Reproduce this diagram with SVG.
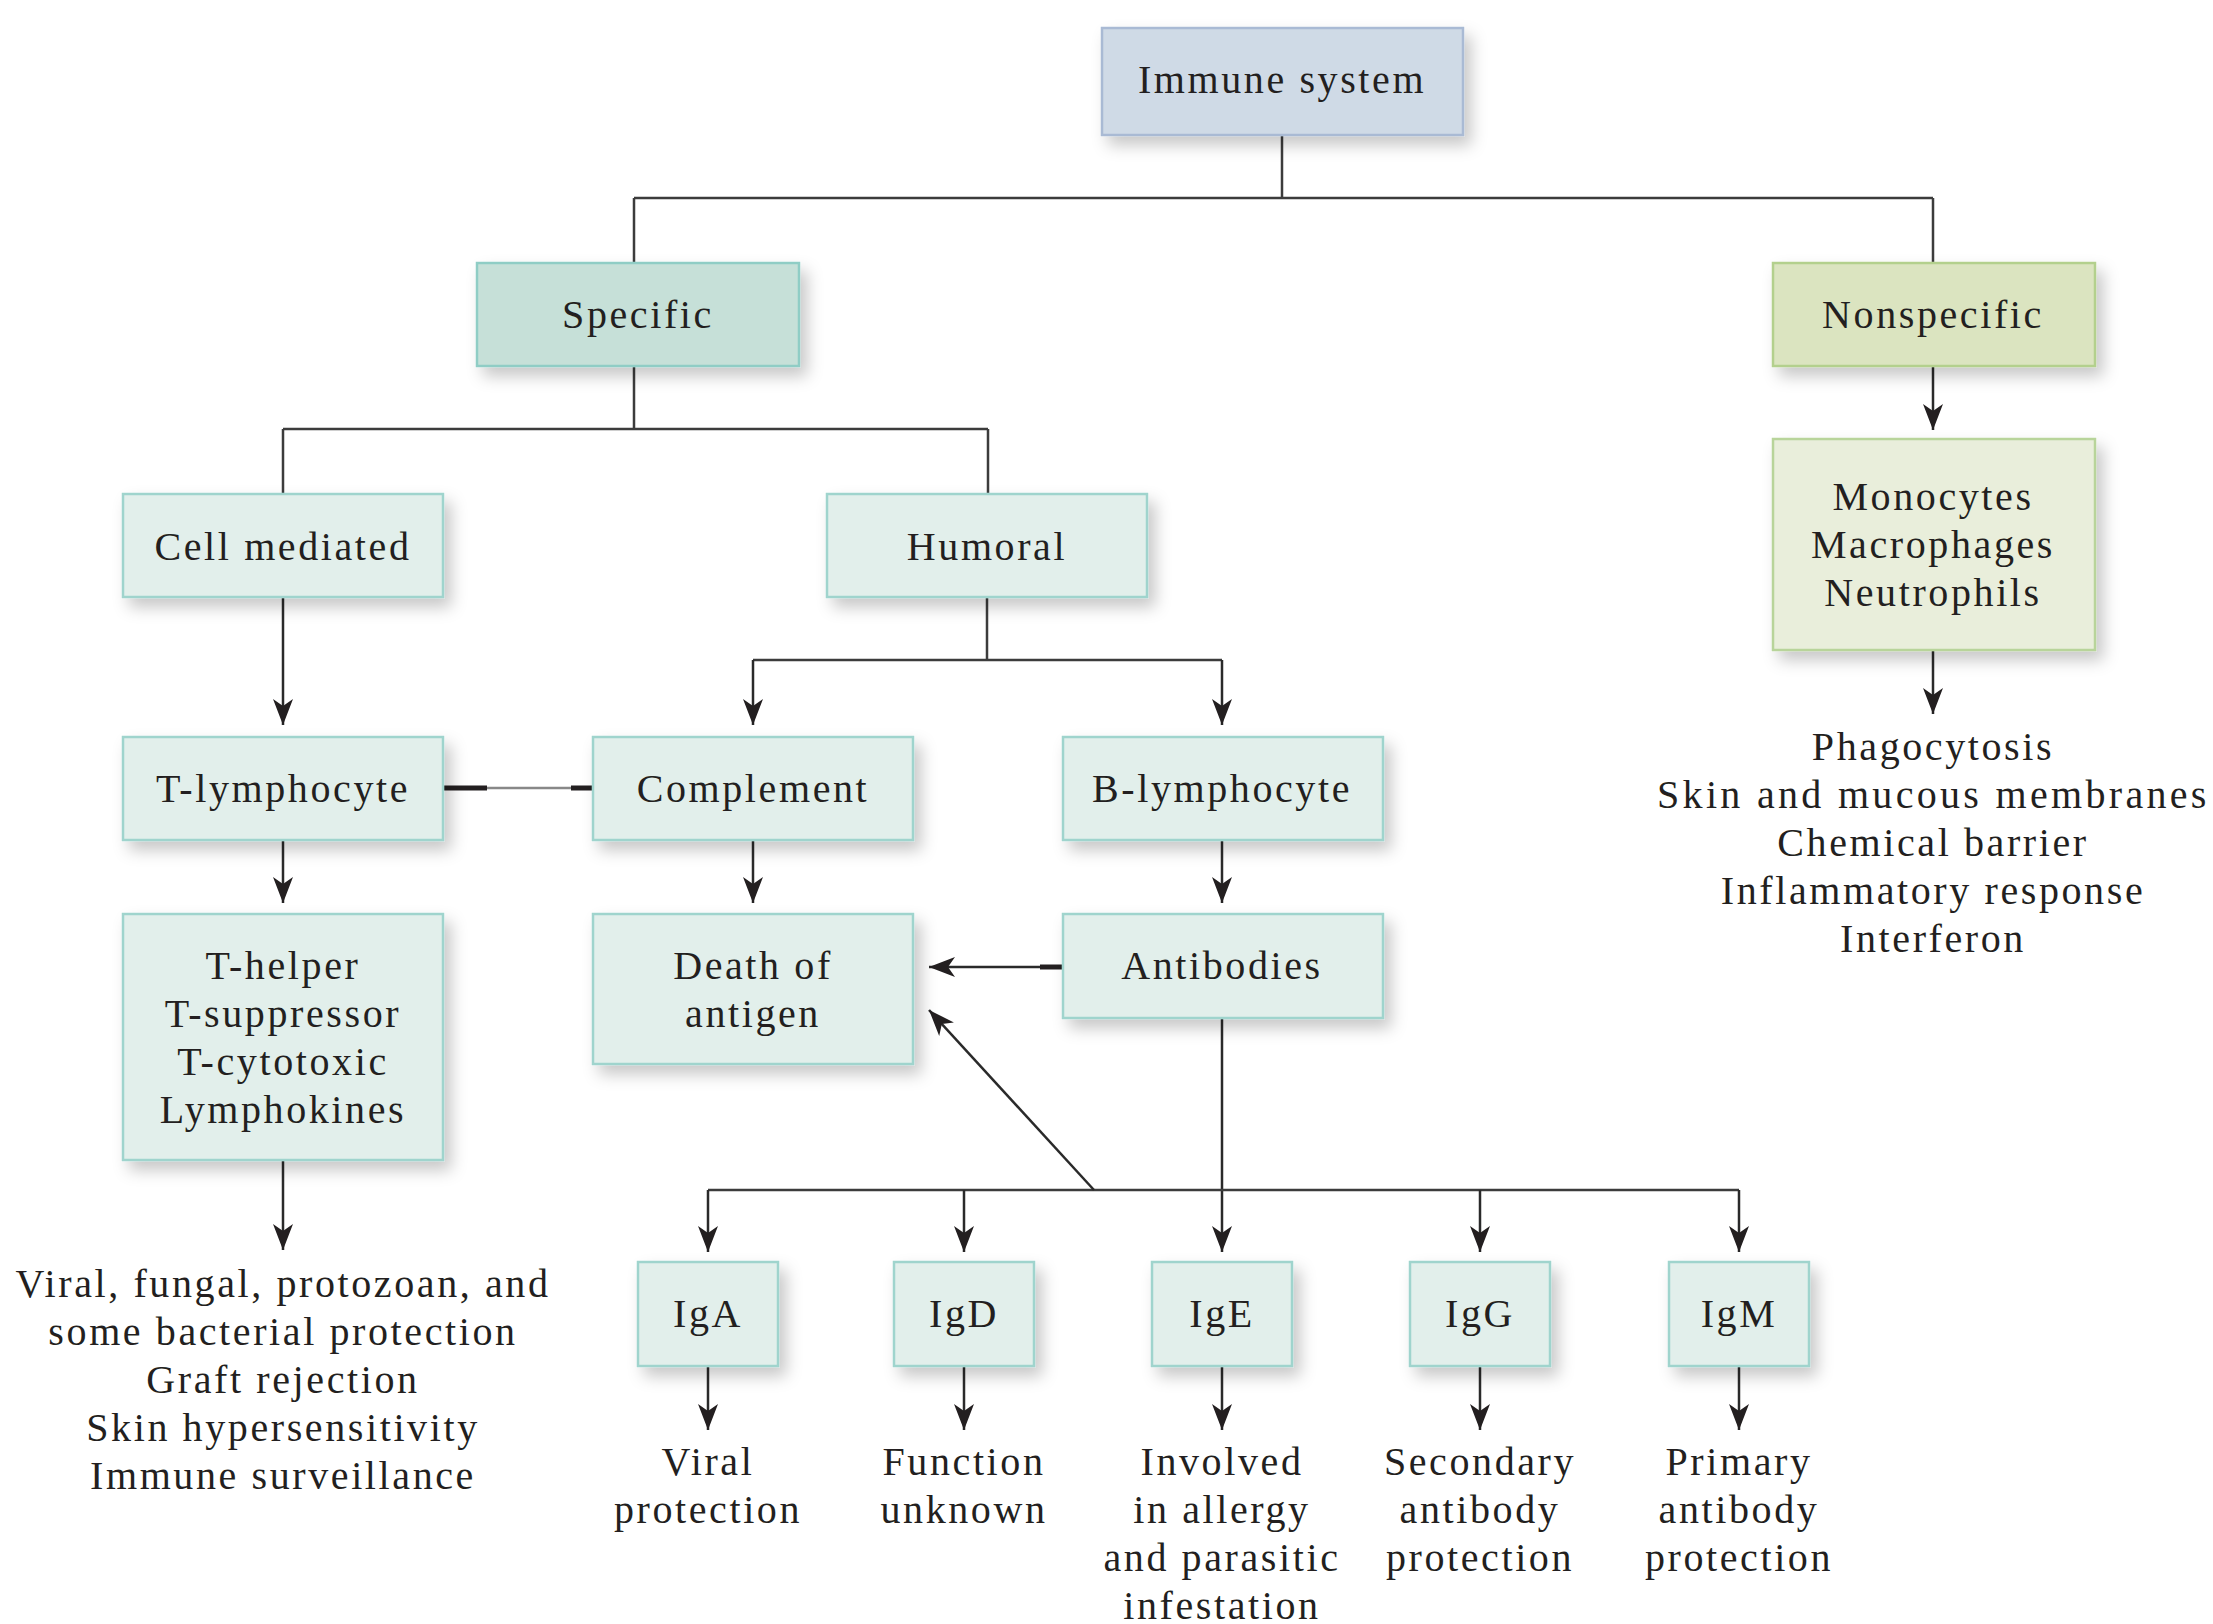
<svg xmlns="http://www.w3.org/2000/svg" width="2213" height="1624" viewBox="0 0 2213 1624">
<style>
text{font-family:"Liberation Serif","Times New Roman",serif;font-size:40px;fill:#231f20;text-anchor:middle;letter-spacing:2.6px}
.box{stroke-width:2.5;filter:url(#sh)}
.blue{fill:#cfdae6;stroke:#a9bad4}
.teal{fill:#c6e0d8;stroke:#8fcdc5}
.green{fill:#dbe4c0;stroke:#b3d08d}
.lgreen{fill:#e9eedb;stroke:#b8d49a}
.pale{fill:#e2efeb;stroke:#9fd4cd}
.ln{fill:none;stroke:#3c3c3c;stroke-width:2.5}
.ar{fill:none;stroke:#2a2a2a;stroke-width:2.5;marker-end:url(#ah)}
.thick{fill:none;stroke:#231f20;stroke-width:5}
</style>
<defs>
<filter id="sh" x="-20%" y="-20%" width="150%" height="160%">
<feDropShadow dx="7" dy="9" stdDeviation="8" flood-color="#000" flood-opacity="0.22"/>
</filter>
<marker id="ah" markerUnits="userSpaceOnUse" markerWidth="30" markerHeight="22" refX="26" refY="10" orient="auto" viewBox="0 0 30 20">
<path d="M0,0 L26,10 L0,20 L7,10 Z" fill="#231f20"/>
</marker>
</defs>
<rect width="2213" height="1624" fill="#fff"/>

<g id="connectors">
<path class="ln" d="M1282,135 V198 M634,198 H1933 M634,198 V263 M1933,198 V263"/>
<path class="ar" d="M1933,366 V430"/>
<path class="ar" d="M1933,650 V714"/>
<path class="ln" d="M634,366 V429 M283,429 H988 M283,429 V494 M988,429 V494"/>
<path class="ar" d="M283,597 V725"/>
<path class="ln" d="M987,597 V660 M753,660 H1222"/>
<path class="ar" d="M753,660 V725"/>
<path class="ar" d="M1222,660 V725"/>
<path class="ar" d="M283,840 V903"/>
<path class="ar" d="M753,840 V903"/>
<path class="ar" d="M1222,840 V903"/>
<path class="ar" d="M283,1160 V1250"/>
<path d="M443,788 H593" fill="none" stroke="#888" stroke-width="2.5"/>
<path class="thick" d="M443,788 H487 M571,788 H593"/>
<path class="ar" d="M1063,967 H929"/>
<path class="thick" d="M1040,967 H1063"/>
<path class="ar" d="M1222,1018 V1252"/>
<path class="ln" d="M708,1190 H1739"/>
<path class="ar" d="M708,1190 V1252"/>
<path class="ar" d="M964,1190 V1252"/>
<path class="ar" d="M1480,1190 V1252"/>
<path class="ar" d="M1739,1190 V1252"/>
<path class="ar" d="M1094,1190 L929,1010"/>
<path class="ar" d="M708,1366 V1430"/>
<path class="ar" d="M964,1366 V1430"/>
<path class="ar" d="M1222,1366 V1430"/>
<path class="ar" d="M1480,1366 V1430"/>
<path class="ar" d="M1739,1366 V1430"/>
</g>

<g id="immune-system"><rect class="box blue" x="1102" y="28" width="361" height="107"/><text x="1282" y="93">Immune system</text></g>
<g id="specific"><rect class="box teal" x="477" y="263" width="322" height="103"/><text x="638" y="328">Specific</text></g>
<g id="nonspecific"><rect class="box green" x="1773" y="263" width="322" height="103"/><text x="1933" y="328">Nonspecific</text></g>
<g id="monocytes"><rect class="box lgreen" x="1773" y="439" width="322" height="211"/>
<text x="1933" y="510">Monocytes</text><text x="1933" y="558">Macrophages</text><text x="1933" y="606">Neutrophils</text></g>
<g id="nonspecific-functions">
<text x="1933" y="760">Phagocytosis</text>
<text x="1933" y="808" textLength="552" lengthAdjust="spacing">Skin and mucous membranes</text>
<text x="1933" y="856">Chemical barrier</text>
<text x="1933" y="904">Inflammatory response</text>
<text x="1933" y="952">Interferon</text>
</g>
<g id="cell-mediated"><rect class="box pale" x="123" y="494" width="320" height="103"/><text x="283" y="560">Cell mediated</text></g>
<g id="humoral"><rect class="box pale" x="827" y="494" width="320" height="103"/><text x="987" y="560">Humoral</text></g>
<g id="t-lymphocyte"><rect class="box pale" x="123" y="737" width="320" height="103"/><text x="283" y="802">T-lymphocyte</text></g>
<g id="complement"><rect class="box pale" x="593" y="737" width="320" height="103"/><text x="753" y="802">Complement</text></g>
<g id="b-lymphocyte"><rect class="box pale" x="1063" y="737" width="320" height="103"/><text x="1222" y="802">B-lymphocyte</text></g>
<g id="t-cells"><rect class="box pale" x="123" y="914" width="320" height="246"/>
<text x="283" y="979">T-helper</text><text x="283" y="1027">T-suppressor</text><text x="283" y="1075">T-cytotoxic</text><text x="283" y="1123">Lymphokines</text></g>
<g id="death-of-antigen"><rect class="box pale" x="593" y="914" width="320" height="150"/>
<text x="753" y="979">Death of</text><text x="753" y="1027">antigen</text></g>
<g id="antibodies"><rect class="box pale" x="1063" y="914" width="320" height="104"/><text x="1222" y="979">Antibodies</text></g>
<g id="cell-mediated-functions">
<text x="283" y="1297">Viral, fungal, protozoan, and</text>
<text x="283" y="1345">some bacterial protection</text>
<text x="283" y="1393">Graft rejection</text>
<text x="283" y="1441">Skin hypersensitivity</text>
<text x="283" y="1489">Immune surveillance</text>
</g>
<g id="iga"><rect class="box pale" x="638" y="1262" width="140" height="104"/><text x="708" y="1327">IgA</text>
<text x="708" y="1475">Viral</text><text x="708" y="1523">protection</text></g>
<g id="igd"><rect class="box pale" x="894" y="1262" width="140" height="104"/><text x="964" y="1327">IgD</text>
<text x="964" y="1475">Function</text><text x="964" y="1523">unknown</text></g>
<g id="ige"><rect class="box pale" x="1152" y="1262" width="140" height="104"/><text x="1222" y="1327">IgE</text>
<text x="1222" y="1475">Involved</text><text x="1222" y="1523">in allergy</text><text x="1222" y="1571">and parasitic</text><text x="1222" y="1619">infestation</text></g>
<g id="igg"><rect class="box pale" x="1410" y="1262" width="140" height="104"/><text x="1480" y="1327">IgG</text>
<text x="1480" y="1475">Secondary</text><text x="1480" y="1523">antibody</text><text x="1480" y="1571">protection</text></g>
<g id="igm"><rect class="box pale" x="1669" y="1262" width="140" height="104"/><text x="1739" y="1327">IgM</text>
<text x="1739" y="1475">Primary</text><text x="1739" y="1523">antibody</text><text x="1739" y="1571">protection</text></g>
</svg>
